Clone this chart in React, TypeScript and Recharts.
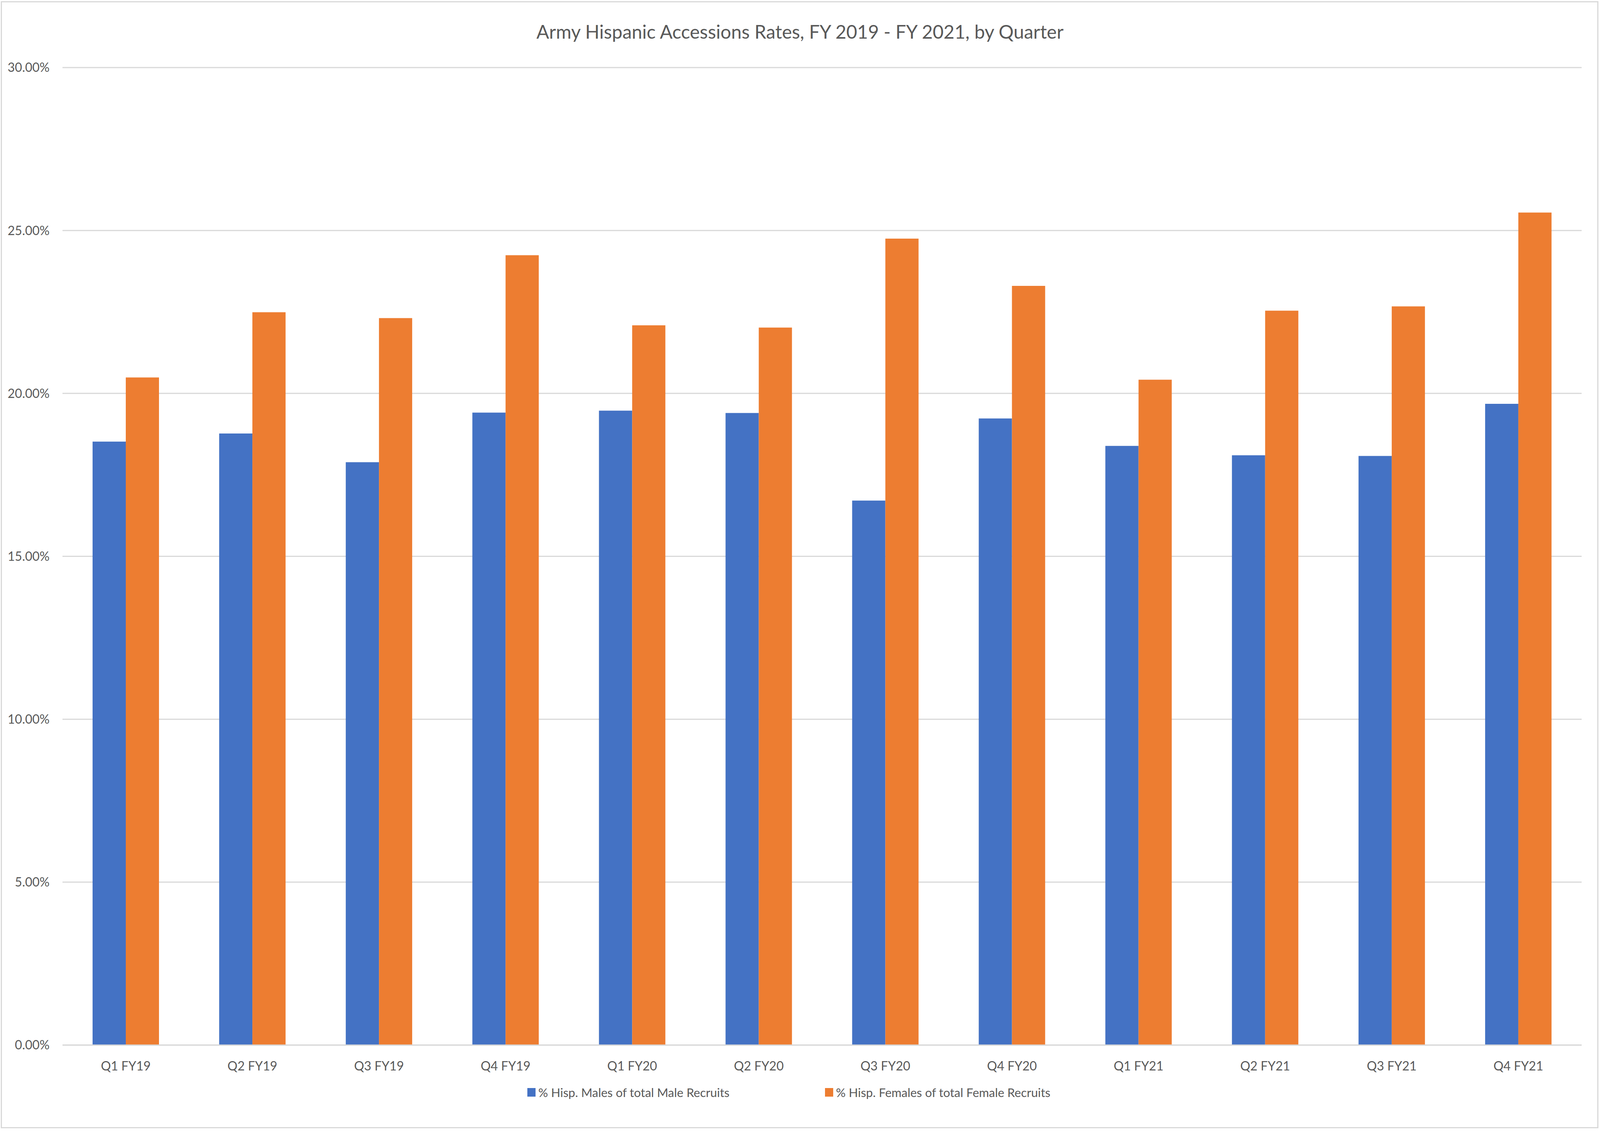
import React from 'react';
import { BarChart, Bar, CartesianGrid, XAxis, YAxis, Legend } from 'recharts';

const quarters = [
  'Q1 FY19', 'Q2 FY19', 'Q3 FY19', 'Q4 FY19',
  'Q1 FY20', 'Q2 FY20', 'Q3 FY20', 'Q4 FY20',
  'Q1 FY21', 'Q2 FY21', 'Q3 FY21', 'Q4 FY21',
];
const maleRates = [18.52, 18.77, 17.89, 19.41, 19.47, 19.40, 16.71, 19.23, 18.39, 18.10, 18.08, 19.68];
const femaleRates = [20.49, 22.49, 22.31, 24.24, 22.09, 22.02, 24.75, 23.30, 20.42, 22.54, 22.67, 25.55];
const yTicks = [0, 5, 10, 15, 20, 25, 30];

const seriesNames = ['% Hisp. Males of total Male Recruits', '% Hisp. Females of total Female Recruits'];
const seriesColors = ['#4472C4', '#ED7D31'];

const data = quarters.map((q, i) => ({ quarter: q, male: maleRates[i], female: femaleRates[i] }));

const FONT = 'Lato, Carlito, Calibri, sans-serif';
const TEXT = '#595959';
const GRID = '#d9d9d9';

// the browser window is only 4096 wide, so the layout is squeezed sideways to fit it
const W = 4096;
const H = 2896;

// legend entries sit at fixed spots like the Excel original
const legendLeft = [1350, 2112];

const renderLegend = () => (
  <div style={{ position: 'relative', width: W, height: 60 }}>
    {seriesNames.map((name, i) => (
      <div
        key={name}
        style={{
          position: 'absolute',
          left: legendLeft[i],
          top: 0,
          height: 60,
          display: 'flex',
          alignItems: 'center',
          whiteSpace: 'nowrap',
        }}
      >
        <span style={{ display: 'inline-block', width: 21, height: 22, background: seriesColors[i], marginRight: 7 }} />
        <span style={{ fontFamily: FONT, fontSize: 31, color: TEXT }}>{name}</span>
      </div>
    ))}
  </div>
);

const App: React.FC = () => {
  return (
    <div style={{ position: 'absolute', left: 0, top: 0, width: W, height: H, background: '#fff', overflow: 'hidden' }}>
      <div
        style={{
          position: 'absolute',
          left: 2,
          top: 3,
          width: W - 6,
          height: 2886,
          border: `3px solid ${GRID}`,
          boxSizing: 'border-box',
        }}
      />
      <div
        style={{
          position: 'absolute',
          left: 0,
          top: 42,
          width: W,
          textAlign: 'center',
          fontFamily: FONT,
          fontSize: 48,
          color: TEXT,
          lineHeight: '78px',
        }}
      >
        Army Hispanic Accessions Rates, FY 2019 - FY 2021, by Quarter
      </div>
      <div style={{ position: 'absolute', left: 0, top: 0 }}>
        <BarChart
          width={W}
          height={H}
          data={data}
          margin={{ top: 173, right: 47, bottom: 120, left: 0 }}
          barSize={85}
          barGap={0}
        >
          <CartesianGrid vertical={false} stroke={GRID} strokeWidth={3} />
          <XAxis
            dataKey="quarter"
            height={100}
            tickLine={false}
            axisLine={{ stroke: GRID, strokeWidth: 3 }}
            tickSize={0}
            tickMargin={42}
            interval={0}
            tick={{ fill: TEXT, fontSize: 32, fontFamily: FONT }}
          />
          <YAxis
            width={160}
            domain={[0, 30]}
            ticks={yTicks}
            axisLine={false}
            tickLine={false}
            tickSize={0}
            tickMargin={33}
            tickFormatter={(v: number) => `${v.toFixed(2)}%`}
            tick={{ fill: TEXT, fontSize: 32, fontFamily: FONT }}
          />
          <Legend
            layout="horizontal"
            verticalAlign="middle"
            align="center"
            content={renderLegend}
            wrapperStyle={{ top: 2767, left: 0, width: W, height: 60 }}
          />
          <Bar dataKey="male" name={seriesNames[0]} fill={seriesColors[0]} isAnimationActive={false} />
          <Bar dataKey="female" name={seriesNames[1]} fill={seriesColors[1]} isAnimationActive={false} />
        </BarChart>
      </div>
    </div>
  );
};

export default App;
